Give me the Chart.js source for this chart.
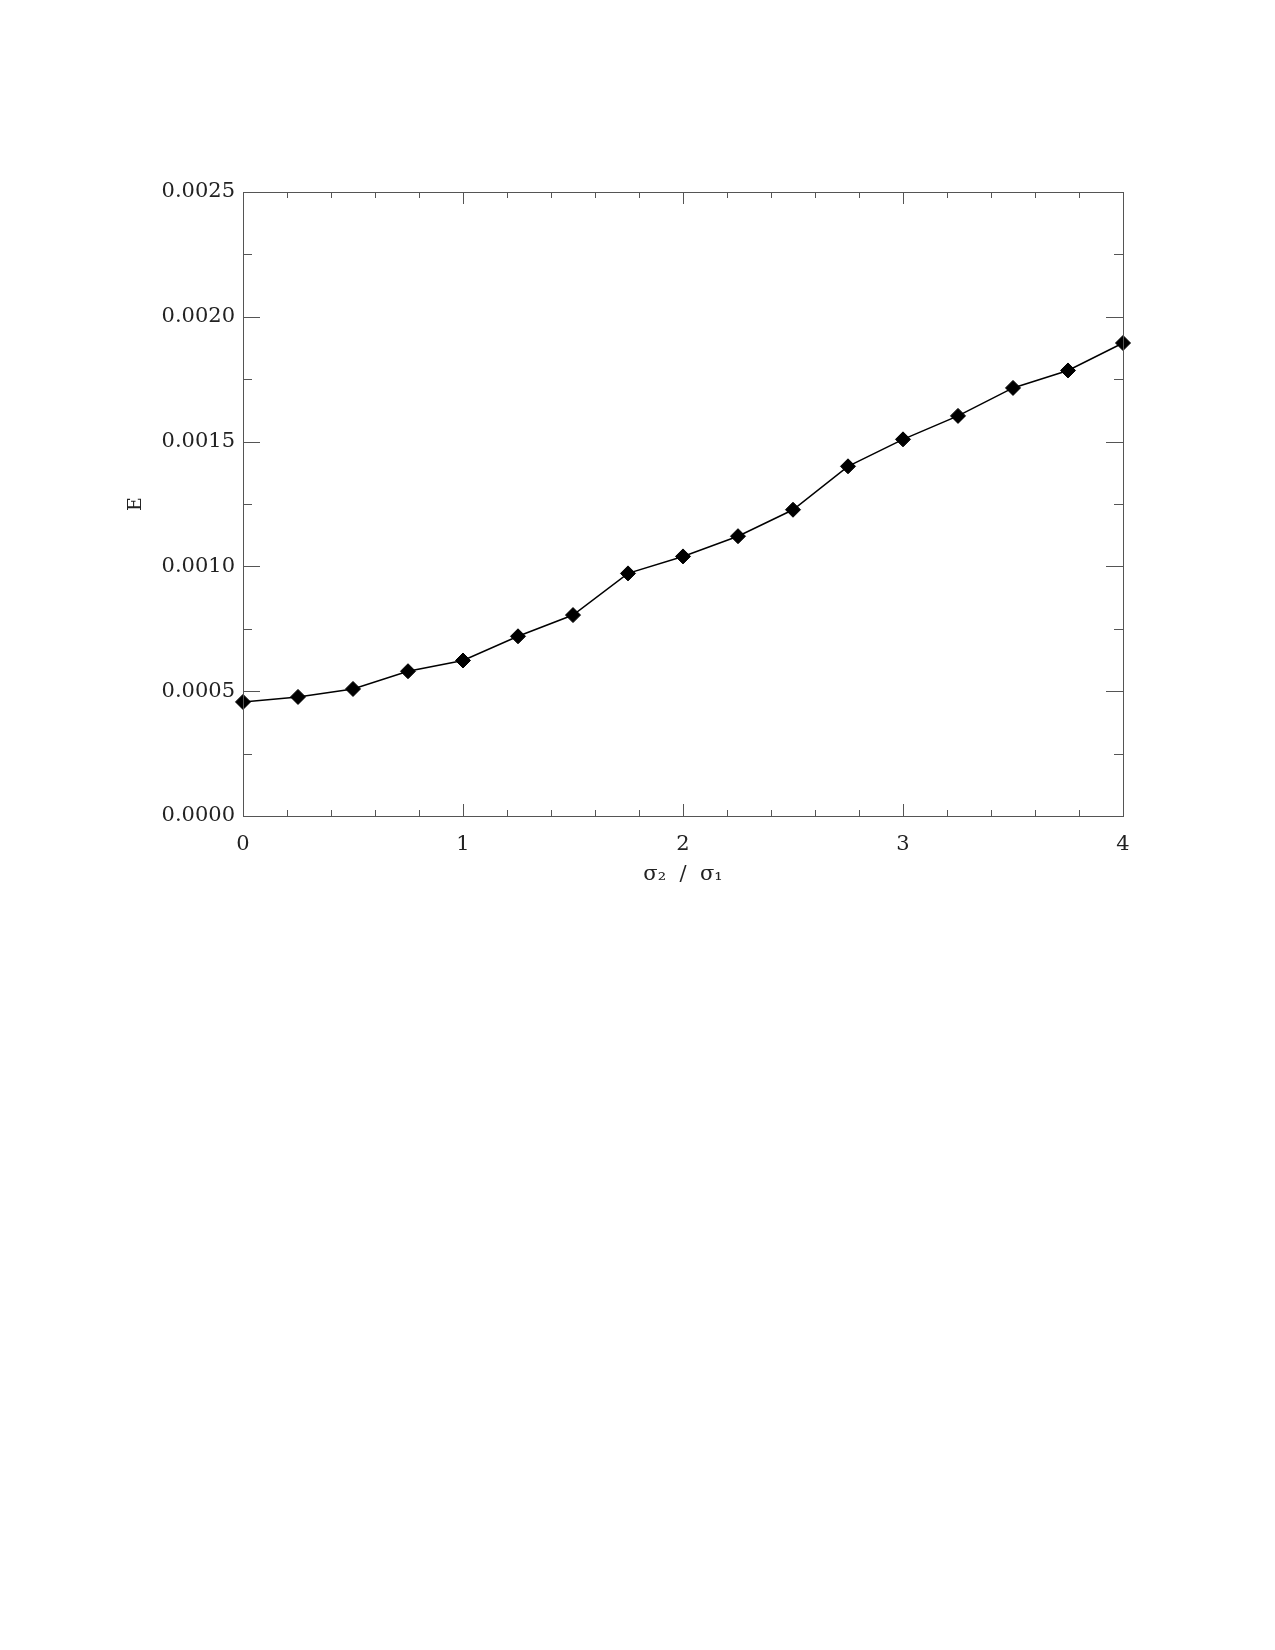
<!DOCTYPE html>
<html>
<head>
<meta charset="utf-8">
<script src="https://cdn.jsdelivr.net/npm/chart.js@4"></script>
<style>
html,body{margin:0;padding:0;background:#fff;}
canvas{display:block;}
</style>
</head>
<body>
<canvas id="c" width="1275" height="1650"></canvas>
<script>
const ratios = [0, 0.25, 0.5, 0.75, 1, 1.25, 1.5, 1.75, 2, 2.25, 2.5, 2.75, 3, 3.25, 3.5, 3.75, 4];
const energy = [0.000457, 0.000477, 0.000509, 0.000580, 0.000623, 0.000720, 0.000805, 0.000972, 0.001040, 0.001121, 0.001227, 0.001401, 0.001509, 0.001603, 0.001715, 0.001785, 0.001895];
const xMajorTicks = [0, 1, 2, 3, 4];
const yMajorTicks = [0, 0.0005, 0.0010, 0.0015, 0.0020, 0.0025];
const xTitle = 'σ\u2082  /  σ\u2081';
const yTitle = 'E';

const FONT = 'DejaVu Serif';
const AXIS = '#555';

const frameTicks = {
  id: 'frameTicks',
  afterDraw(chart) {
    const ctx = chart.ctx, a = chart.chartArea;
    const xs = chart.scales.x, ys = chart.scales.y;
    ctx.save();
    ctx.strokeStyle = AXIS;
    ctx.lineWidth = 1;
    ctx.strokeRect(Math.round(a.left) + 0.5, Math.round(a.top) + 0.5, Math.round(a.right - a.left), Math.round(a.bottom - a.top));
    ctx.beginPath();
    for (let i = 0; i <= 20; i++) {
      const v = i * 0.2;
      const px = Math.round(xs.getPixelForValue(v)) + 0.5;
      const len = (i % 5 === 0) ? 12 : 6;
      ctx.moveTo(px, a.bottom); ctx.lineTo(px, a.bottom - len);
      ctx.moveTo(px, a.top); ctx.lineTo(px, a.top + len);
    }
    for (let i = 0; i <= 10; i++) {
      const v = i * 0.00025;
      const py = Math.round(ys.getPixelForValue(v)) + 0.5;
      const len = (i % 2 === 0) ? 17 : 9;
      ctx.moveTo(a.left, py); ctx.lineTo(a.left + len, py);
      ctx.moveTo(a.right, py); ctx.lineTo(a.right - len, py);
    }
    ctx.stroke();
    ctx.restore();
  }
};

new Chart(document.getElementById('c'), {
  type: 'line',
  data: {
    datasets: [{
      data: ratios.map((r, i) => ({ x: r, y: energy[i] })),
      borderColor: '#000',
      borderWidth: 1.5,
      pointStyle: 'rectRot',
      pointRadius: 7.5,
      pointBackgroundColor: '#000',
      pointBorderColor: '#000',
      pointBorderWidth: 1,
      tension: 0,
      clip: false
    }]
  },
  options: {
    responsive: false,
    devicePixelRatio: 1,
    animation: false,
    layout: { padding: { left: 125, top: 192, right: 152, bottom: 763 } },
    plugins: { legend: { display: false }, tooltip: { enabled: false } },
    scales: {
      x: {
        type: 'linear', min: 0, max: 4,
        afterBuildTicks: s => { s.ticks = xMajorTicks.map(v => ({ value: v })); },
        afterFit: s => { s.height = 71; },
        grid: { display: false, drawTicks: false },
        border: { display: false },
        ticks: { padding: 16, color: '#222', font: { family: FONT, size: 21 }, callback: v => String(v) },
        title: { display: true, text: xTitle, color: '#222', padding: 0, font: { family: FONT, size: 21 } }
      },
      y: {
        type: 'linear', min: 0, max: 0.0025,
        afterBuildTicks: s => { s.ticks = yMajorTicks.map(v => ({ value: v })); },
        afterFit: s => { s.width = 118; },
        grid: { display: false, drawTicks: false },
        border: { display: false },
        ticks: { padding: 8, color: '#222', font: { family: FONT, size: 21 }, callback: v => Number(v).toFixed(4) },
        title: { display: true, text: yTitle, color: '#222', padding: 0, font: { family: FONT, size: 19 } }
      }
    }
  },
  plugins: [frameTicks]
});
</script>
</body>
</html>
